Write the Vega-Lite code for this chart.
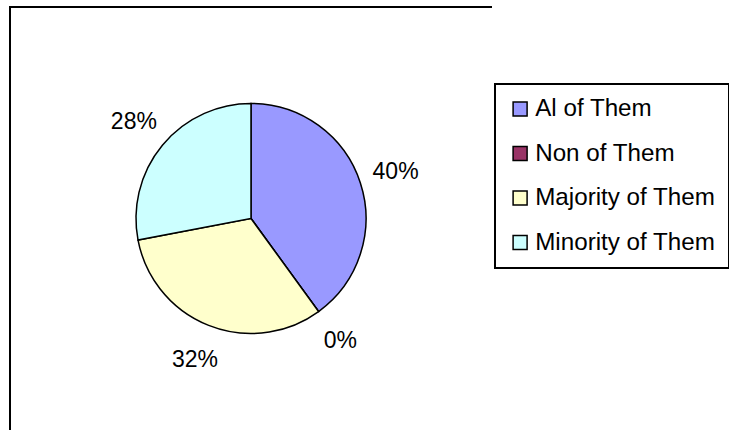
{
  "$schema": "https://vega.github.io/schema/vega-lite/v6.json",
  "width": 482,
  "height": 423,
  "autosize": {"type": "none"},
  "padding": {"left": 10, "top": 7, "right": 237, "bottom": 0},
  "background": "white",
  "view": {"stroke": "black", "strokeWidth": 2, "strokeDash": [482, 905, 423]},
  "data": {"values": [
    {"category": "Al of Them", "share": 0.40},
    {"category": "Non of Them", "share": 0.0},
    {"category": "Majority of Them", "share": 0.32},
    {"category": "Minority of Them", "share": 0.28}
  ]},
  "transform": [{"window": [{"op": "row_number", "as": "slice_order"}]}],
  "encoding": {
    "theta": {"field": "share", "type": "quantitative", "stack": true},
    "order": {"field": "slice_order", "type": "quantitative"}
  },
  "layer": [
    {
      "mark": {"type": "arc", "outerRadius": 115, "stroke": "black", "strokeWidth": 1.5},
      "encoding": {
        "color": {
          "field": "category",
          "type": "nominal",
          "scale": {
            "domain": ["Al of Them", "Non of Them", "Majority of Them", "Minority of Them"],
            "range": ["#9999FF", "#993366", "#FFFFCC", "#CCFFFF"]
          },
          "legend": {
            "title": null,
            "orient": "none",
            "legendX": 485,
            "legendY": 77,
            "direction": "vertical",
            "strokeColor": "black",
            "fillColor": "white",
            "padding": 13,
            "labelFont": "Liberation Sans",
            "labelFontSize": 24.2,
            "labelColor": "black",
            "symbolType": "square",
            "symbolSize": 196,
            "symbolStrokeColor": "black",
            "symbolStrokeWidth": 1.5,
            "symbolOpacity": 1,
            "rowPadding": 19.5,
            "labelOffset": 3,
            "labelLimit": 400
          }
        }
      }
    },
    {
      "mark": {"type": "text", "radius": 152, "fontSize": 23, "font": "Liberation Sans"},
      "encoding": {
        "detail": {"field": "category", "type": "nominal"},
        "color": {"value": "black"},
        "text": {"field": "share", "type": "quantitative", "format": ".0%"}
      }
    }
  ],
  "config": {
    "legend": {"strokeWidth": 2}
  }
}
